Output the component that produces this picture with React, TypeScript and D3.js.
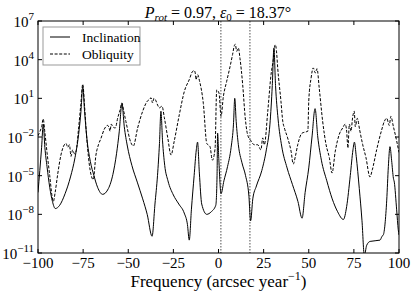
import React from "react";
import * as d3 from "d3";

// frequency (arcsec/yr) and log10 of the power
const incFreq = [-100, -99, -98, -97.1, -96.2, -95, -93.5, -92, -90.4, -88, -85, -82, -79.5, -77.5, -76.2, -75.2, -74.2, -73, -71, -69, -67, -64.2, -61, -58.5, -56.5, -55, -53.5, -52.2, -50.5, -48, -45, -42, -39.5, -36.8, -35.2, -33.8, -32.7, -31.9, -31, -29.8, -28, -25, -22, -19, -17.2, -16.2, -15, -13.5, -12.3, -11.6, -10.6, -9.3, -6.5, -4, -1.5, -0.8, -0.5, 0.2, 1.4, 3, 5, 7, 8.3, 9, 9.8, 11, 13, 15, 16.8, 17.8, 19, 21, 24, 26.5, 28.5, 29.8, 30.7, 31.6, 33, 35, 38, 41, 44, 46.3, 48, 50, 51.8, 53.5, 55, 57, 60, 63, 66, 69.2, 71, 73, 74.5, 75.3, 76.3, 78, 79.5, 80.8, 82.1, 84, 89.5, 90.6, 91.3, 93.2, 94.1, 95, 95.9, 96.9, 97.4, 98.7, 99.6, 100];
const incLog = [-6.3, -4.6, -2.8, -1.0, -2.8, -4.3, -5.9, -7.0, -7.55, -7.3, -6.4, -5.1, -3.6, -1.8, 0.0, 1.9, 0.0, -2.0, -3.9, -5.0, -5.9, -6.45, -6.0, -4.9, -3.3, -1.6, 0.6, -1.2, -2.7, -4.2, -5.5, -6.8, -8.0, -9.7, -7.2, -5.0, -2.5, 0.0, -2.3, -4.2, -5.4, -6.5, -7.2, -7.9, -8.8, -10.0, -7.6, -5.0, -3.0, -2.4, -4.8, -7.2, -8.0, -7.8, -7.3, -5.0, -1.7, -3.8, -6.4, -5.4, -4.3, -2.8, -1.0, 1.0, -0.8, -2.6, -4.0, -5.0, -6.5, -8.5, -6.8, -5.8, -4.6, -3.0, -1.0, 2.0, 4.9, 2.0, -0.6, -2.7, -4.4, -5.7, -7.0, -8.3, -6.3, -4.4, -2.0, 0.2, -2.0, -3.8, -5.4, -6.8, -7.8, -8.4, -7.4, -5.0, -3.0, -2.4, -3.5, -6.0, -8.5, -11.2, -10.4, -10.1, -10.0, -9.7, -9.6, -6.9, -4.3, -2.75, -3.8, -5.2, -5.5, -7.65, -9.2, -9.6];

const oblFreq = [-100, -99, -98, -97.1, -96.3, -95, -93.5, -92.2, -91.5, -90.5, -89.1, -87.3, -85.8, -84.5, -83.5, -82.6, -81.7, -80.8, -79.8, -78.9, -77.5, -76.3, -75.2, -74.2, -73.4, -71.6, -69.4, -67.9, -66.5, -65.1, -63.3, -61.4, -60.6, -60.1, -59.4, -58.6, -57.2, -55.8, -54.5, -53.5, -52.5, -51.3, -48.5, -47.2, -44.8, -42, -39.2, -38.2, -37.4, -36.5, -35.8, -35, -33.7, -32.8, -31.3, -30, -28.1, -26.3, -24.5, -21.7, -18.9, -16.2, -14.3, -13.4, -12.8, -12.5, -11.5, -10.6, -8.4, -6.5, -4.7, -3.4, -1.9, -1.0, 0.3, 1.4, 2.7, 4.5, 6.4, 7.8, 8.8, 9.3, 10.1, 11, 11.9, 13.4, 14.8, 16.1, 18, 19.8, 21.7, 23.5, 24.5, 25.4, 27.3, 29.1, 30.4, 31, 31.5, 32.1, 32.8, 34.6, 35.6, 36.5, 38.3, 40.2, 41.4, 42.6, 43.9, 46.3, 48.5, 49.5, 50, 51.3, 52.5, 53.6, 54.6, 55.8, 57.7, 59.6, 61.4, 62.9, 64.7, 66.9, 68.8, 70.2, 71, 71.7, 72.5, 73.4, 74.3, 75.2, 75.8, 76.9, 78.2, 79.9, 81.7, 83.9, 85.2, 87.6, 90.4, 91.9, 93.2, 94.6, 95.5, 96.9, 98.7, 100];
const oblLog = [-1.9, -1.6, -1.2, -0.6, -1.5, -3.2, -5.0, -6.6, -7.0, -6.3, -4.9, -3.4, -2.7, -2.5, -2.8, -2.6, -3.5, -3.0, -3.3, -3.1, -1.3, 0.5, 2.1, 0.4, -1.3, -4.1, -5.3, -3.4, -2.6, -2.1, -1.4, -1.1, -1.3, -1.55, -1.0, -1.2, -1.3, -0.5, 0.1, 0.65, 0.0, -0.8, -2.45, -2.7, -1.3, 0.0, 0.82, 0.9, 1.05, 0.64, 1.0, 0.9, 0.47, 0.26, 0.39, -0.5, -2.07, -3.4, -2.3, -0.26, 1.55, 2.45, 3.1, 3.15, 2.9, 2.45, 2.84, 2.4, 0.6, -2.5, -2.75, -3.8, -2.9, 1.65, 1.4, -0.4, 1.15, 2.3, 3.46, 4.4, 5.1, 5.2, 4.65, 4.9, 4.1, 2.06, -0.5, -1.8, -2.3, -2.6, -2.6, -3.0, -2.07, -2.6, 0.0, 2.84, 4.1, 5.0, 5.16, 4.7, 3.36, 0.78, -0.78, -1.3, -2.07, -3.1, -4.1, -3.5, -2.6, -1.7, -1.6, -1.55, 0.78, 2.58, 3.36, 2.97, 3.3, 1.8, -0.78, -2.6, -3.6, -4.8, -3.1, -1.8, -1.3, -1.0, -1.55, -2.85, -1.0, -1.55, -0.5, 0.0, -1.2, -0.55, -1.45, -2.6, -3.6, -5.1, -4.55, -3.0, -1.45, -0.78, -0.55, -1.1, -0.4, -1.2, -2.3, -3.2];

const xTicks = [-100, -75, -50, -25, 0, 25, 50, 75, 100];
const yExponents = [7, 4, 1, -2, -5, -8, -11];
const markerFreqs = [1.3, 17.4];

const W = 416;
const H = 299;
const M = { top: 21, right: 17, bottom: 46, left: 38 };
const FONT = "Liberation Serif, DejaVu Serif, serif";

const App = () => {
  const iw = W - M.left - M.right;
  const ih = H - M.top - M.bottom;

  const x = d3.scaleLinear().domain([-100, 100]).range([0, iw]);
  const y = d3.scaleLog().domain([1e-11, 1e7]).range([ih, 0]);

  const line = d3
    .line<[number, number]>()
    .x(d => x(d[0]))
    .y(d => y(Math.pow(10, d[1])))
    .curve(d3.curveMonotoneX);

  const incPts = incFreq.map((f, i) => [f, incLog[i]] as [number, number]);
  const oblPts = oblFreq.map((f, i) => [f, oblLog[i]] as [number, number]);

  return (
    <svg
      width={W}
      height={H}
      style={{ position: "absolute", left: 0, top: 0, background: "#fff", fontFamily: FONT }}
    >
      <defs>
        <clipPath id="plot-clip">
          <rect width={iw} height={ih} />
        </clipPath>
      </defs>

      <text x={W / 2 + 10} y={18} textAnchor="middle" fontSize={16}>
        <tspan fontStyle="italic">P</tspan>
        <tspan fontStyle="italic" fontSize={11} dy={3}>rot</tspan>
        <tspan dy={-3}>{" = 0.97, "}</tspan>
        <tspan fontStyle="italic">ε</tspan>
        <tspan fontSize={11} dy={3}>0</tspan>
        <tspan dy={-3}>{" = 18.37°"}</tspan>
      </text>

      <g transform={`translate(${M.left}, ${M.top})`}>
        <g clipPath="url(#plot-clip)">
          {markerFreqs.map(f => (
            <line
              key={f}
              x1={x(f)}
              x2={x(f)}
              y1={0}
              y2={ih}
              stroke="#8a8a8a"
              strokeWidth={1.5}
              strokeDasharray="1.5,1.5"
            />
          ))}
          <path d={line(oblPts) || ""} fill="none" stroke="#000" strokeWidth={1} strokeDasharray="3,1.6" />
          <path d={line(incPts) || ""} fill="none" stroke="#000" strokeWidth={1} />
        </g>

        <rect width={iw} height={ih} fill="none" stroke="#000" strokeWidth={1} />

        {xTicks.map(t => (
          <g key={t} transform={`translate(${x(t)}, 0)`}>
            <line y1={ih} y2={ih - 4} stroke="#000" />
            <line y1={0} y2={4} stroke="#000" />
            <text y={ih + 15} textAnchor="middle" fontSize={15}>
              {t < 0 ? `\u2212${-t}` : t}
            </text>
          </g>
        ))}

        {yExponents.map(e => (
          <g key={e} transform={`translate(0, ${y(Math.pow(10, e))})`}>
            <line x1={0} x2={4} stroke="#000" />
            <line x1={iw} x2={iw - 4} stroke="#000" />
            <text x={-4} y={6} textAnchor="end" fontSize={15}>
              10
              <tspan fontSize={11} dy={-7}>
                {e < 0 ? `\u2212${-e}` : e}
              </tspan>
            </text>
          </g>
        ))}

        <g transform="translate(5, 6)">
          <rect width={97} height={38} fill="#fff" stroke="#999" strokeWidth={1} />
          <line x1={7} x2={27} y1={10} y2={10} stroke="#000" strokeWidth={1} />
          <text x={39} y={14.5} fontSize={13.5}>Inclination</text>
          <line x1={7} x2={27} y1={27} y2={27} stroke="#000" strokeWidth={1} strokeDasharray="3,1.6" />
          <text x={39} y={31.5} fontSize={13.5}>Obliquity</text>
        </g>
      </g>

      <text x={M.left + iw / 2} y={287} textAnchor="middle" fontSize={17}>
        Frequency (arcsec year
        <tspan fontSize={12} dy={-7}>{"\u22121"}</tspan>
        <tspan dy={7}>)</tspan>
      </text>
    </svg>
  );
};

export default App;
